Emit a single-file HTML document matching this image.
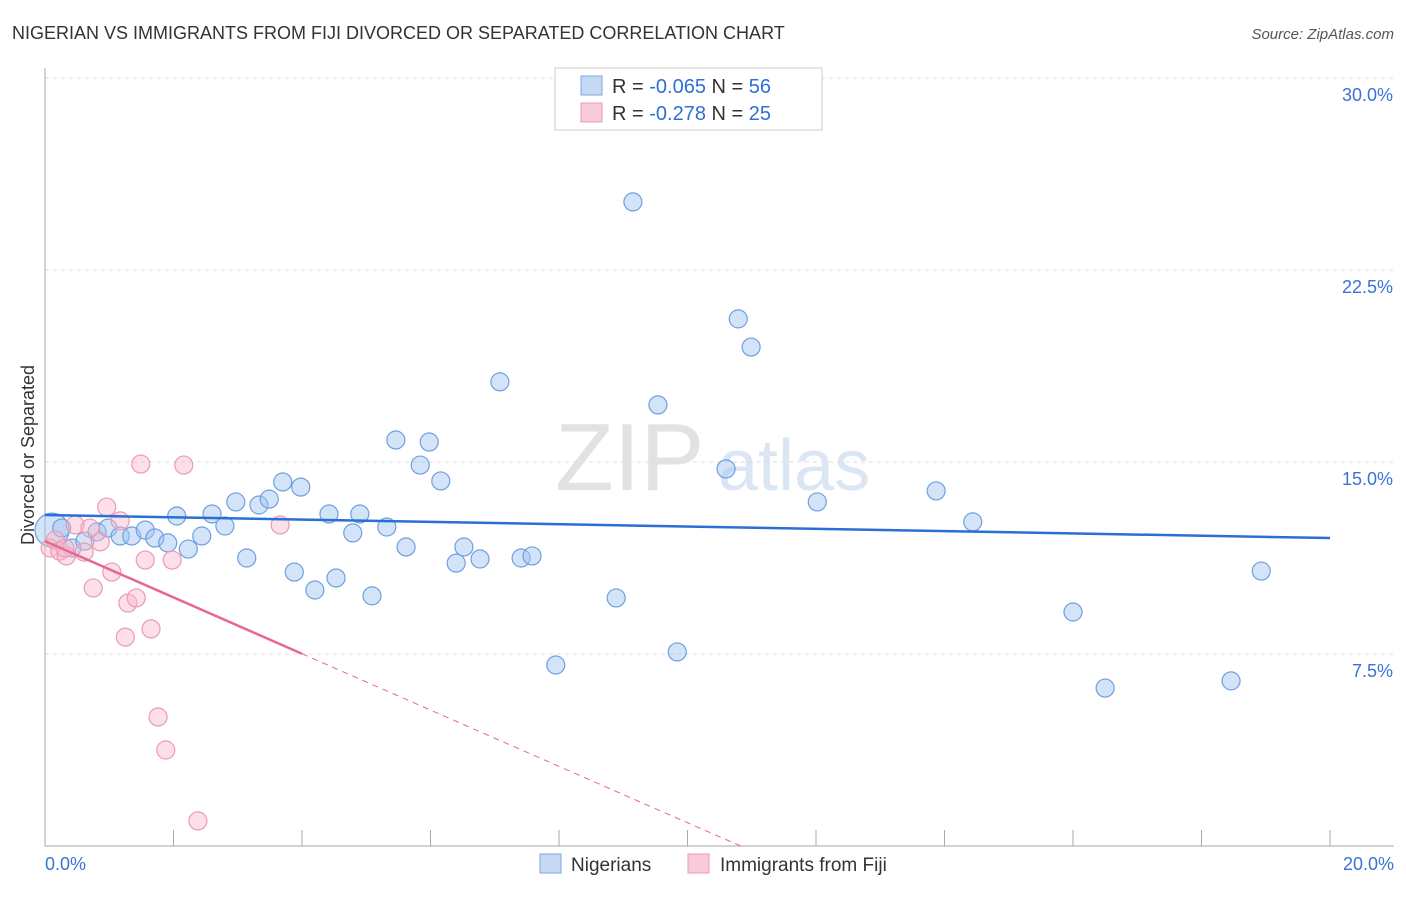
<!DOCTYPE html>
<html><head><meta charset="utf-8"><style>
body{margin:0;background:#fff;font-family:"Liberation Sans",sans-serif;}
svg text{font-family:"Liberation Sans",sans-serif;}
</style></head><body>
<svg id="chart" width="1406" height="892">
<text x="12" y="39" font-size="18" fill="#333">NIGERIAN VS IMMIGRANTS FROM FIJI DIVORCED OR SEPARATED CORRELATION CHART</text>
<text x="1394" y="39" font-size="15" fill="#555" font-style="italic" text-anchor="end">Source: ZipAtlas.com</text>
<text x="555" y="490" font-size="96" fill="#e2e2e2" font-family="Liberation Serif">ZIP</text>
<text x="718" y="490" font-size="72" fill="#dbe6f5">atlas</text>
<text transform="translate(34,455) rotate(-90)" font-size="18" fill="#333" text-anchor="middle">Divorced or Separated</text>
<g id="grid"></g><g id="axes"></g><g id="pts"></g><g id="lines"></g>
<g>
<rect x="555" y="68" width="267" height="62" fill="#fff" stroke="#ccc"/>
<rect x="581" y="76" width="21" height="19" fill="#c5d9f5" stroke="#7ea7e0"/>
<rect x="581" y="103" width="21" height="19" fill="#f9cbd8" stroke="#eb9ab2"/>
<text x="612" y="93" font-size="20" fill="#333">R = <tspan fill="#2f6fd6">-0.065</tspan>   N = <tspan fill="#2f6fd6">56</tspan></text>
<text x="612" y="120" font-size="20" fill="#333">R =  <tspan fill="#2f6fd6">-0.278</tspan>   N = <tspan fill="#2f6fd6">25</tspan></text>
</g>
<g>
<rect x="540" y="854" width="21" height="19" fill="#c5d9f5" stroke="#7ea7e0"/>
<text x="571" y="871" font-size="19" fill="#333">Nigerians</text>
<rect x="688" y="854" width="21" height="19" fill="#f9cbd8" stroke="#eb9ab2"/>
<text x="720" y="871" font-size="19" fill="#333">Immigrants from Fiji</text>
</g>
</svg>
<script>
const yTicks=[7.5,15,22.5,30];
const yTickLabels=["7.5%","15.0%","22.5%","30.0%"];
const xTickLabels=["0.0%","20.0%"];
const blueX=[0.11,0.26,0.42,0.62,0.81,0.98,1.17,1.35,1.56,1.71,1.91,2.05,2.23,2.44,2.60,2.80,2.97,3.14,3.33,3.49,3.70,3.88,3.98,4.20,4.42,4.53,4.79,4.90,5.09,5.32,5.46,5.62,5.84,5.98,6.16,6.40,6.52,6.77,7.08,7.41,7.58,7.95,8.89,9.15,9.54,9.84,10.60,10.79,10.99,12.02,13.87,14.44,16.00,16.50,18.46,18.93];
const blueY=[12.34,12.42,11.64,11.91,12.27,12.42,12.11,12.11,12.34,12.03,11.84,12.89,11.60,12.11,12.97,12.50,13.44,11.25,13.32,13.55,14.22,10.70,14.02,10.0,12.97,10.47,12.23,12.97,9.77,12.46,15.86,11.68,14.88,15.78,14.26,11.05,11.68,11.21,18.13,11.25,11.33,7.07,9.69,25.16,17.23,7.58,14.73,20.59,19.49,13.44,13.87,12.66,9.14,6.17,6.45,10.74];
const pinkX=[0.08,0.16,0.23,0.33,0.47,0.61,0.70,0.75,0.86,0.96,1.04,1.17,1.25,1.29,1.42,1.49,1.56,1.65,1.76,1.88,1.98,2.16,2.38,3.66,0.31];
const pinkY=[11.64,11.95,11.52,11.33,12.54,11.48,12.42,10.08,11.88,13.24,10.70,12.70,8.16,9.49,9.69,14.92,11.17,8.48,5.04,3.75,11.17,14.88,0.98,12.54,11.64];
const blueTrend=[12.93,12.03];
const pinkTrend=[11.91,-1.1];
const NS="http://www.w3.org/2000/svg";
const X=v=>45+v*1285/20, Y=v=>846-v*25.6;
function mk(p,t,a){const e=document.createElementNS(NS,t);for(const k in a)e.setAttribute(k,a[k]);document.getElementById(p).appendChild(e);return e;}
yTicks.forEach((t,i)=>{
 let l=mk('grid','line',{x1:45,x2:1394,y1:Y(t),y2:Y(t),stroke:'#ddd','stroke-dasharray':'4,4'});
 
 
 let tx=mk('grid','text',{x:1393,y:Y(t)+23,'font-size':18,fill:'#3a72d6','text-anchor':'end'});tx.textContent=yTickLabels[i];
 
 
});
mk('axes','line',{x1:45,x2:45,y1:68,y2:846,stroke:'#aaa'});
mk('axes','line',{x1:45,x2:1394,y1:846,y2:846,stroke:'#aaa'});
for(let i=1;i<=10;i++){let t=mk('axes','line',{x1:X(i*2),x2:X(i*2),y1:830,y2:846,stroke:'#aaa'});
 
 }
let x0=mk('axes','text',{x:45,y:870,'font-size':18,fill:'#3a72d6'});x0.textContent=xTickLabels[0];


let x1=mk('axes','text',{x:1394,y:870,'font-size':18,fill:'#3a72d6','text-anchor':'end'});x1.textContent=xTickLabels[1];


blueX.forEach((v,i)=>{let c=mk('pts','circle',{cx:X(v),cy:Y(blueY[i]),r:i==0?17:9,fill:'rgba(160,196,240,0.45)',stroke:'#6e9fe0','stroke-width':1.2});
 
 });
pinkX.forEach((v,i)=>{let c=mk('pts','circle',{cx:X(v),cy:Y(pinkY[i]),r:9,fill:'rgba(248,185,205,0.45)',stroke:'#ec9ab4','stroke-width':1.2});
 
 });
let bl=mk('lines','line',{x1:X(0),y1:Y(blueTrend[0]),x2:X(20),y2:Y(blueTrend[1]),stroke:'#2a6fd4','stroke-width':2.5});


const pe=-pinkTrend[0]/pinkTrend[1];
let pl=mk('lines','line',{x1:X(0),y1:Y(pinkTrend[0]),x2:X(4),y2:Y(pinkTrend[0]+pinkTrend[1]*4),stroke:'#e8668f','stroke-width':2.5});


let pd=mk('lines','line',{x1:X(4),y1:Y(pinkTrend[0]+pinkTrend[1]*4),x2:X(pe),y2:Y(0),stroke:'#e8668f','stroke-width':1,'stroke-dasharray':'6,5'});


</script>
</body></html>
